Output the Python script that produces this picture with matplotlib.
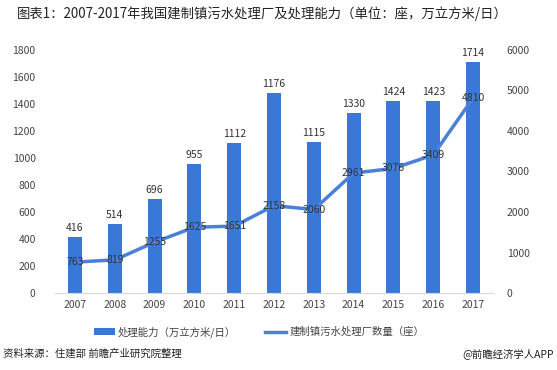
import matplotlib
matplotlib.use("Agg")
import matplotlib.pyplot as plt
import numpy as np

plt.rcParams['font.family'] = ['Noto Sans CJK SC', 'DejaVu Sans']

years = ['2007', '2008', '2009', '2010', '2011', '2012', '2013', '2014', '2015', '2016', '2017']
# bar heights as drawn in the reference (the 2012 bar is drawn taller than its label)
capacity = [416, 514, 696, 955, 1112, 1480, 1115, 1330, 1424, 1423, 1714]
capacity_labels = ['416', '514', '696', '955', '1112', '1176', '1115', '1330', '1424', '1423', '1714']
plants = [763, 819, 1255, 1625, 1651, 2158, 2060, 2961, 3076, 3409, 4810]
left_ticks = [0, 200, 400, 600, 800, 1000, 1200, 1400, 1600, 1800]
right_ticks = [0, 1000, 2000, 3000, 4000, 5000, 6000]

bar_color = '#3a78d8'
line_color = '#4a80d8'
text_color = '#333333'

fig = plt.figure(figsize=(5.57, 3.70), dpi=100)
ax = fig.add_axes([0.099, 0.208, 0.786, 0.657])
x = np.arange(len(years))
ax.bar(x, capacity, width=0.35, color=bar_color, zorder=2, label='处理能力（万立方米/日）')
ax.set_ylim(0, 1800)
ax.set_yticks(left_ticks)
ax.set_xlim(-0.5, len(years) - 0.5)
ax.set_xticks(x)
ax.set_xticklabels(years)
for s in ['top', 'right', 'left']:
    ax.spines[s].set_visible(False)
ax.spines['bottom'].set_color('#d9d9d9')
ax.tick_params(axis='both', length=0, labelsize=7.5, colors='#444444')
ax.tick_params(axis='y', pad=14)
ax.tick_params(axis='x', pad=5)
for xi, v, lab in zip(x, capacity, capacity_labels):
    ax.text(xi, v + 30, lab, ha='center', va='bottom', fontsize=7.5, color=text_color)

ax2 = ax.twinx()
ax2.plot(x, plants, color=line_color, linewidth=2.5, zorder=3, label='建制镇污水处理厂数量（座）')
ax2.set_ylim(0, 6000)
ax2.set_yticks(right_ticks)
for s in ['top', 'right', 'left', 'bottom']:
    ax2.spines[s].set_visible(False)
ax2.tick_params(axis='y', length=0, labelsize=7.5, colors='#444444', pad=10)
for xi, v in zip(x, plants):
    ax2.text(xi, v, str(v), ha='center', va='center', fontsize=7.5, color=text_color, zorder=4)

h1, l1 = ax.get_legend_handles_labels()
h2, l2 = ax2.get_legend_handles_labels()
fig.legend(h1 + h2, l1 + l2, loc='center', bbox_to_anchor=(0.465, 0.103), ncol=2,
           frameon=False, fontsize=7.5, handlelength=2.0, columnspacing=2.8,
           handletextpad=0.3, labelcolor='#444444')

fig.text(0.03, 0.962, '图表1：2007-2017年我国建制镇污水处理厂及处理能力（单位：座，万立方米/日）',
         fontsize=9.6, color='#222222', ha='left', va='center')
fig.text(0.005, 0.045, '资料来源：住建部 前瞻产业研究院整理', fontsize=7.5, color='#222222',
         ha='left', va='center', style='italic')
fig.text(0.995, 0.045, '@前瞻经济学人APP', fontsize=7.5, color='#222222', ha='right', va='center')

fig.savefig('out.png', dpi=100)
